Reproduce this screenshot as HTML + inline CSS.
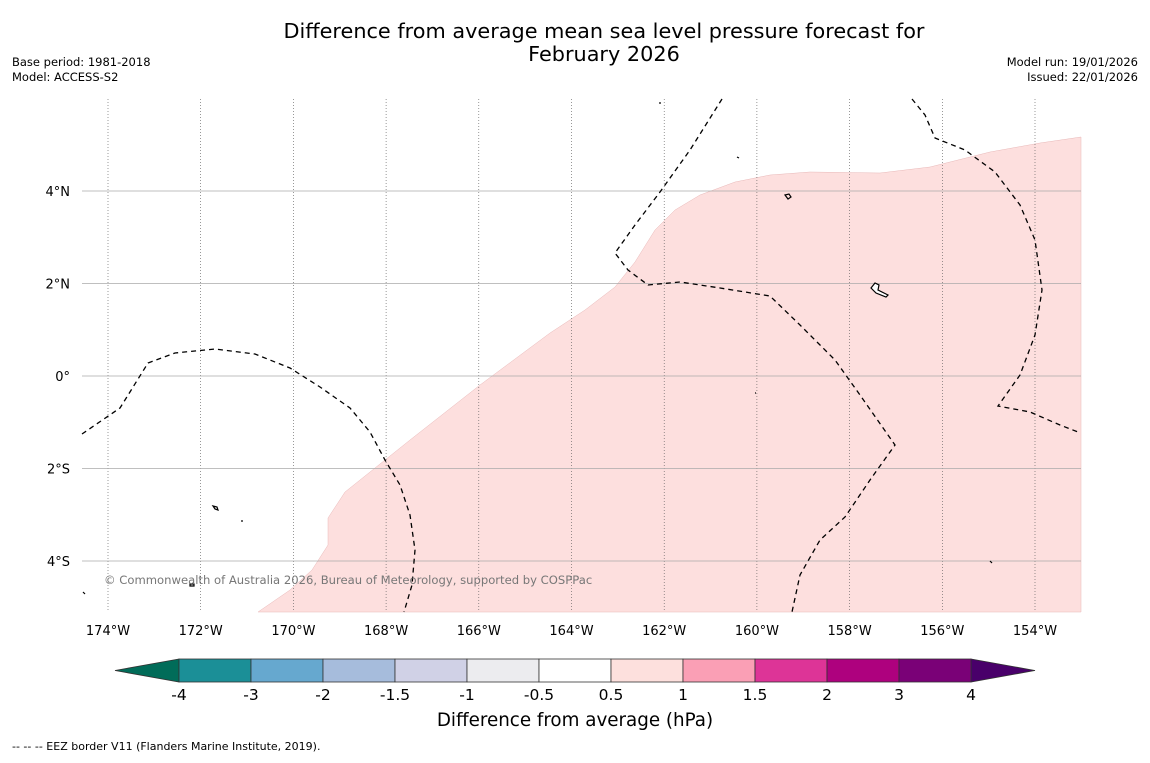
<!DOCTYPE html>
<html><head><meta charset="utf-8"><style>
body{margin:0;background:#fff;width:1150px;height:758px;overflow:hidden;font-family:"Liberation Sans","DejaVu Sans",sans-serif}
</style></head><body>
<svg id="c" width="1150" height="758" xmlns="http://www.w3.org/2000/svg" font-family="DejaVu Sans, Liberation Sans, sans-serif">
<rect width="1150" height="758" fill="#fff"/>
<text x="604" y="38" font-size="20.8" text-anchor="middle">Difference from average mean sea level pressure forecast for</text>
<text x="604" y="61" font-size="20.8" text-anchor="middle">February 2026</text>
<text x="12" y="66" font-size="11.5">Base period: 1981-2018</text>
<text x="12" y="81" font-size="11.5">Model: ACCESS-S2</text>
<text x="1138" y="66" font-size="11.5" text-anchor="end">Model run: 19/01/2026</text>
<text x="1138" y="81" font-size="11.5" text-anchor="end">Issued: 22/01/2026</text>
<g id="map">
<path d="M1081,137 L1040,143 990,152 930,167 880,173 810,172 770,175 735,182 700,195 675,210 655,230 635,262 615,287 585,310 550,333 480,385 410,440 345,492 328,518 328,545 312,570 290,590 258,612 1081,612Z" fill="#fddfde" stroke="#e8b8b8" stroke-width="0.5"/>
<g id="grid"></g>
<g fill="none" stroke="#000" stroke-width="1.3" stroke-dasharray="5,4">
<polyline points="82,434 120,408 148,363 175,353 215,349 255,354 290,368 320,387 350,408 370,432 385,460 400,485 410,515 415,550 412,585 404,612"/>
<polyline points="722,99 690,150 660,192 635,225 615,253 628,270 648,285 680,282 720,288 770,296 800,325 835,360 860,395 895,445 870,480 845,517 820,540 800,575 792,612"/>
<polyline points="912,99 925,115 935,138 965,150 995,172 1020,205 1035,240 1042,290 1035,335 1020,375 998,406 1030,412 1060,425 1078,432"/>
</g>
<g stroke="#000" fill="none" stroke-width="1.2">
<path d="M785,195 l4,-1 2,3 -3,2z"/>
<path d="M871,288 l4,-5 4,2 -1,5 10,5 -2,2 -10,-4z" fill="#fff"/>
<path d="M213,506 l4,1 1,3 -3,-1z"/>
<path d="M190,584 l4,0 0,2 -4,0z"/>
<path d="M659,103 l2,0"/><path d="M737,157 l2,1"/><path d="M242,520 l0,2"/><path d="M755,393 l1,0"/><path d="M990,561 l2,2"/><path d="M83,592 l2,2"/>
</g>
<text x="104" y="584" font-size="11.6" fill="#777">© Commonwealth of Australia 2026, Bureau of Meteorology, supported by COSPPac</text>
</g>
<g id="ticks"></g>
<g id="cbar"></g>
<text x="575" y="726" font-size="18.3" text-anchor="middle">Difference from average (hPa)</text>
<text x="12" y="750" font-size="11">--  --  -- EEZ border V11 (Flanders Marine Institute, 2019).</text>
</svg>
<script>
const lonTicks=[-174,-172,-170,-168,-166,-164,-162,-160,-158,-156,-154];
const latTicks=[4,2,0,-2,-4];
const levelLabels=["-4","-3","-2","-1.5","-1","-0.5","0.5","1","1.5","2","3","4"];
const levelColors=["#1b8f97","#66a8cf","#a6bcdc","#d0d1e6","#ececef","#ffffff","#fde0dd","#fa9fb5","#dd3497","#ae017e","#7a0177"];
const underColor="#016c59", overColor="#49006a";
const NS="http://www.w3.org/2000/svg";
const X0=82,X1=1081,Y0=99,Y1=612;
const xs=lon=>108+(lon+174)*46.35;
const ys=lat=>376-lat*46.25;
function mk(t,a,p){const e=document.createElementNS(NS,t);for(const k in a)e.setAttribute(k,a[k]);p.appendChild(e);return e;}
const grid=document.getElementById('grid'),ticks=document.getElementById('ticks'),cb=document.getElementById('cbar');
lonTicks.forEach(l=>{const x=xs(l);
 const g=mk('line',{x1:x,x2:x,y1:Y0,y2:Y1,stroke:'#555','stroke-width':0.6,'stroke-dasharray':'1,2'},grid);
 
 
 const t=mk('text',{x:x,y:635,'font-size':13,'text-anchor':'middle'},ticks);t.textContent=Math.abs(l)+'°W';
 
 
});
latTicks.forEach(l=>{const y=ys(l);
 const g=mk('line',{x1:X0,x2:X1,y1:y,y2:y,stroke:'#aaa','stroke-width':0.8},grid);
 
 
 const t=mk('text',{x:70,y:y+5,'font-size':13,'text-anchor':'end'},ticks);t.textContent=l===0?'0°':Math.abs(l)+(l>0?'°N':'°S');
 
 
});
const cx0=179,cw=72,cy=659,ch=23;
const u=mk('polygon',{points:`${cx0},${cy} 115,${cy+ch/2} ${cx0},${cy+ch}`,fill:underColor,stroke:'#333','stroke-width':0.8},cb);


const xe=cx0+cw*levelColors.length;
const o=mk('polygon',{points:`${xe},${cy} 1035,${cy+ch/2} ${xe},${cy+ch}`,fill:overColor,stroke:'#333','stroke-width':0.8},cb);


levelColors.forEach((c,i)=>{
 const r=mk('rect',{x:cx0+i*cw,y:cy,width:cw,height:ch,fill:c,stroke:'#333','stroke-width':0.8},cb);
 
 
});
levelLabels.forEach((s,i)=>{
 const t=mk('text',{x:cx0+i*cw,y:700,'font-size':15.5,'text-anchor':'middle'},cb);t.textContent=s;
 
 
});
</script>
</body></html>
